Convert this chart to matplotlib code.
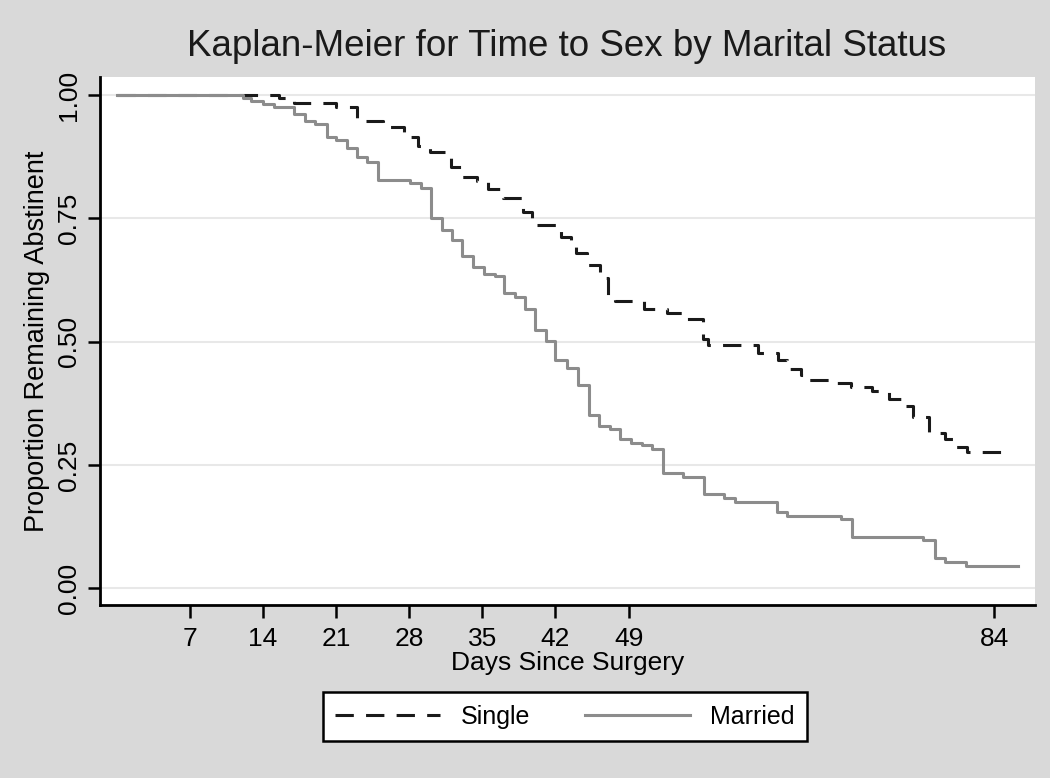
import matplotlib.pyplot as plt
import numpy as np

plt.rcParams['font.family'] = ['Liberation Sans', 'DejaVu Sans']

# step times (days) and survival after each step
single_days = [0, 15.5, 17, 21, 23, 25.5, 27.5, 28.8, 30, 32, 33, 34.5, 35.5, 37,
               38.9, 39.8, 42.5, 43.5, 44, 45, 46.3, 47, 47.7, 50.5, 52.7, 54.5,
               56.1, 56.6, 61.4, 63.3, 64.2, 65.5, 66.2, 68.6, 70.3, 72.3, 73.9,
               75.2, 76.2, 77.8, 79.3, 80.3, 81.4, 85.3]
single_surv = [1.0, 0.995, 0.985, 0.977, 0.947, 0.935, 0.915, 0.898, 0.885, 0.855,
               0.835, 0.826, 0.81, 0.792, 0.763, 0.736, 0.712, 0.70, 0.68, 0.655,
               0.63, 0.595, 0.583, 0.567, 0.558, 0.546, 0.505, 0.494, 0.478, 0.462,
               0.445, 0.432, 0.422, 0.416, 0.408, 0.401, 0.383, 0.37, 0.347, 0.315,
               0.303, 0.287, 0.276, 0.276]

married_days = [0, 12.1, 12.9, 14.0, 15.1, 17.0, 18.0, 19.0, 20.1, 21.0, 22.0, 23.0,
                24.0, 25.0, 28.1, 29.1, 30.1, 31.1, 32.1, 33.1, 34.1, 35.2, 36.2,
                37.1, 38.1, 39.1, 40.0, 41.1, 42.0, 43.1, 44.2, 45.2, 46.2, 47.2,
                48.2, 49.2, 50.3, 51.2, 52.3, 54.2, 56.2, 58.1, 59.2, 63.2, 64.2,
                69.3, 70.4, 77.2, 78.3, 79.3, 81.3, 86.3]
married_surv = [1.0, 0.995, 0.988, 0.982, 0.976, 0.963, 0.948, 0.941, 0.915, 0.909,
                0.892, 0.875, 0.865, 0.828, 0.821, 0.811, 0.751, 0.726, 0.706, 0.673,
                0.652, 0.638, 0.633, 0.598, 0.591, 0.567, 0.523, 0.502, 0.462, 0.447,
                0.412, 0.351, 0.329, 0.323, 0.302, 0.294, 0.290, 0.283, 0.233, 0.226,
                0.191, 0.183, 0.175, 0.155, 0.147, 0.140, 0.103, 0.097, 0.062, 0.053,
                0.045, 0.045]

xticks = [7, 14, 21, 28, 35, 42, 49, 84]
yticks = [0, 0.25, 0.5, 0.75, 1.0]

bg = '#d9d9d9'
fig = plt.figure(figsize=(10.5, 7.78), dpi=100, facecolor=bg)
ax = fig.add_axes([0.0952, 0.2224, 0.8905, 0.6786])
ax.set_facecolor('white')

l1, = ax.step(single_days, single_surv, where='post', color='#1a1a1a', lw=2.2,
              linestyle=(0, (6, 4)), label='Single')
l2, = ax.step(married_days, married_surv, where='post', color='#8c8c8c', lw=2.2,
              label='Married')

ax.set_xlim(-1.6, 87.9)
ax.set_ylim(-0.034, 1.037)
ax.set_xticks(xticks)
ax.set_yticks(yticks)
ax.set_yticklabels(['0.00', '0.25', '0.50', '0.75', '1.00'], rotation=90, va='center')
ax.tick_params(axis='both', direction='out', length=9, width=1.8, labelsize=19, color='black')
ax.tick_params(axis='x', pad=7)
ax.tick_params(axis='y', pad=5)
ax.grid(axis='y', color='#e8e8e8', lw=1.5)
ax.set_axisbelow(True)
for s in ['top', 'right']:
    ax.spines[s].set_visible(False)
for s in ['left', 'bottom']:
    ax.spines[s].set_linewidth(2)

ax.set_xlabel('Days Since Surgery', fontsize=19, labelpad=0)
ax.set_ylabel('Proportion Remaining Abstinent', fontsize=19.5, labelpad=5)
fig.text(0.54, 0.94, 'Kaplan-Meier for Time to Sex by Marital Status',
         ha='center', va='center', fontsize=26.5, color='#1a1a1a')

leg = fig.legend(handles=[l1, l2], loc='center', bbox_to_anchor=(0.538, 0.0785),
                 ncol=2, fontsize=18, frameon=True, fancybox=False, handlelength=4.2,
                 columnspacing=2.2, borderpad=0.5, edgecolor='black', framealpha=1)
leg.get_frame().set_linewidth(1.8)
leg.get_frame().set_facecolor('white')

fig.savefig('out.png', dpi=100, facecolor=bg)
